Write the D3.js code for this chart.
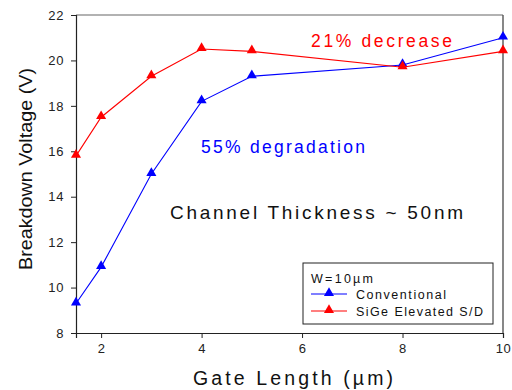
<!DOCTYPE html>
<html>
<head>
<meta charset="utf-8">
<script src="https://cdn.jsdelivr.net/npm/d3@7"></script>
<style>
  body { margin: 0; background: #fff; }
  text { font-family: "Liberation Sans", Arial, sans-serif; }
</style>
</head>
<body>
<div class="chart"></div>
<script>
// gate length (um)
const gateLength = [1.5, 2, 3, 4, 5, 8, 10];
const conventional = [9.3, 10.9, 15.0, 18.2, 19.3, 19.8, 21.0];
const sigeElevated = [15.8, 17.5, 19.3, 20.5, 20.4, 19.7, 20.4];
const xTicks = [2, 4, 6, 8, 10];
const yTicks = [8, 10, 12, 14, 16, 18, 20, 22];
const seriesNames = ['Conventional', 'SiGe Elevated S/D'];

const width = 512, height = 390;
const margin = { left: 76, top: 15, right: 9, bottom: 57 };
const innerW = width - margin.left - margin.right;
const innerH = height - margin.top - margin.bottom;

const svg = d3.select('.chart').append('svg')
  .attr('width', width).attr('height', height);

const x = d3.scaleLinear().domain([1.5, 10]).range([0, innerW]);
const y = d3.scaleLinear().domain([8, 22]).range([innerH, 0]);

const g = svg.append('g').attr('transform', `translate(${margin.left},${margin.top})`);

// frame top/right
g.append('line').attr('x1', 0).attr('x2', innerW).attr('y1', 0).attr('y2', 0)
  .attr('stroke', '#666').attr('stroke-width', 1.2);
g.append('line').attr('x1', innerW).attr('x2', innerW).attr('y1', 0).attr('y2', innerH)
  .attr('stroke', '#555').attr('stroke-width', 1.4);

const xAxis = g.append('g').attr('transform', `translate(0,${innerH})`)
  .call(d3.axisBottom(x).tickValues(xTicks).tickSize(5).tickPadding(6));
const yAxis = g.append('g')
  .call(d3.axisLeft(y).tickValues(yTicks).tickSize(5).tickPadding(7));
[xAxis, yAxis].forEach(a => {
  a.select('.domain').attr('stroke', '#222').attr('stroke-width', 1.2);
  a.selectAll('.tick line').attr('stroke', '#222');
  a.selectAll('.tick text').attr('font-size', 13).attr('fill', '#222')
    .attr('letter-spacing', 0.6)
    .style('font-family', '"Liberation Sans", Arial, sans-serif');
});

const line = d3.line().x((d, i) => x(gateLength[i])).y(d => y(d));
const tri = d3.symbol().type(d3.symbolTriangle).size(44);

const series = [
  { name: seriesNames[0], values: conventional, color: '#0000ff' },
  { name: seriesNames[1], values: sigeElevated, color: '#ff0000' }
];

series.forEach(s => {
  g.append('path').datum(s.values)
    .attr('fill', 'none').attr('stroke', s.color).attr('stroke-width', 1.1)
    .attr('d', line);
  g.selectAll(null).data(s.values).enter().append('path')
    .attr('d', tri).attr('fill', s.color)
    .attr('transform', (d, i) => `translate(${x(gateLength[i])},${y(d) - 1})`);
});

// widely spaced text, as in the original
function label(parent, tx, ty, size, len, color, str) {
  return parent.append('text').attr('x', tx).attr('y', ty)
    .attr('font-size', size).attr('fill', color)
    .attr('textLength', len).attr('lengthAdjust', 'spacing')
    .text(str);
}

// annotations
label(svg, 311, 47, 17.5, 141, '#ff0000', '21% decrease');
label(svg, 201, 153, 17.5, 164, '#0000ff', '55% degradation');
label(svg, 170, 219, 19, 293, '#111', 'Channel Thickness ~ 50nm');

// legend
const lg = svg.append('g').attr('transform', 'translate(303,263)');
lg.append('rect').attr('width', 190).attr('height', 61)
  .attr('fill', '#fff').attr('stroke', '#222').attr('stroke-width', 1);
label(lg, 8, 20, 12.5, 62, '#111', 'W=10\u00b5m');
const legendLen = [90, 127];
series.forEach((s, i) => {
  const yy = 31 + i * 17;
  lg.append('line').attr('x1', 8).attr('x2', 44).attr('y1', yy).attr('y2', yy)
    .attr('stroke', s.color).attr('stroke-width', 1.1);
  lg.append('path').attr('d', tri).attr('fill', s.color)
    .attr('transform', `translate(26,${yy - 1})`);
  label(lg, 53, yy + 5, 12.5, legendLen[i], '#111', s.name);
});

// axis titles
label(svg, 193, 385, 19.5, 200, '#111', 'Gate Length (\u00b5m)');
svg.append('text').attr('transform', `translate(32,270) rotate(-90)`)
  .attr('font-size', 19).attr('fill', '#111')
  .attr('textLength', 202).attr('lengthAdjust', 'spacingAndGlyphs')
  .text('Breakdown Voltage (V)');
</script>
</body>
</html>
